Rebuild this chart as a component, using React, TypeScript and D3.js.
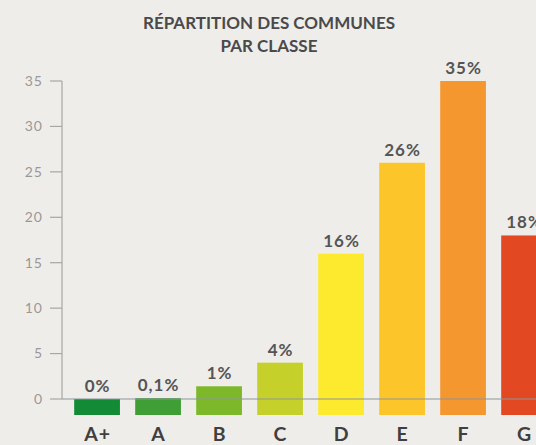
import React from "react";
import * as d3 from "d3";

const categories = ["A+", "A", "B", "C", "D", "E", "F", "G"];
const values = [0, 0.1, 1.4, 4, 16, 26, 35, 18];
const valueLabels = ["0%", "0,1%", "1%", "4%", "16%", "26%", "35%", "18%"];
const colors = ["#138a36", "#3f9e36", "#7cb829", "#c6d02b", "#fde92e", "#fcc52a", "#f5972f", "#e24822"];
const yTicks = [0, 5, 10, 15, 20, 25, 30, 35];
const titleLines = ["RÉPARTITION DES COMMUNES", "PAR CLASSE"];

const W = 536;
const H = 445;

export default function App() {
  const axisX = 62;
  const step = 61;
  const pIn = 0.25;
  const pOut = 0.2;
  const x = d3
    .scaleBand<string>()
    .domain(categories)
    .range([axisX, axisX + step * (categories.length - pIn + 2 * pOut)])
    .paddingInner(pIn)
    .paddingOuter(pOut);
  const y = d3.scaleLinear().domain([0, 35]).range([399, 81]);
  const below = 16;
  const font = "Lato, 'Open Sans', sans-serif";

  return (
    <div style={{ position: "fixed", left: 0, top: 0, width: W, height: H, background: "#efedea" }}>
      <svg width={W} height={H} style={{ display: "block" }}>
        <rect x={0} y={0} width={W} height={H} fill="#efedea" />
        {titleLines.map((t, i) => (
          <text
            key={t}
            x={269}
            y={29 + i * 23}
            textAnchor="middle"
            fontFamily={font}
            fontWeight={700}
            fontSize={17}
            fill="#4a4a4a"
          >
            {t}
          </text>
        ))}
        {/* y axis */}
        <line x1={axisX} x2={axisX} y1={y(35)} y2={y(0)} stroke="#a8a6a3" strokeWidth={1.2} />
        {yTicks.map((t) => (
          <g key={t}>
            <line x1={axisX - 12} x2={axisX} y1={y(t)} y2={y(t)} stroke="#a8a6a3" strokeWidth={1.2} />
            <text
              x={43}
              y={y(t)}
              dy="0.35em"
              textAnchor="end"
              fontFamily={font}
              fontSize={14}
              letterSpacing={1}
              fill="#9a9896"
            >
              {t}
            </text>
          </g>
        ))}
        {/* bars */}
        {categories.map((c, i) => (
          <rect
            key={c}
            x={x(c)}
            y={y(values[i])}
            width={x.bandwidth()}
            height={y(0) - y(values[i]) + below}
            fill={colors[i]}
          />
        ))}
        {/* zero line */}
        <line x1={axisX} x2={W} y1={y(0)} y2={y(0)} stroke="#8d969a" strokeWidth={1.2} />
        {/* value labels */}
        {categories.map((c, i) => (
          <text
            key={c + "v"}
            x={(x(c) as number) + x.bandwidth() / 2 + 0.5}
            y={Math.min(y(values[i]), y(0)) - 7}
            textAnchor="middle"
            fontFamily={font}
            fontWeight={700}
            fontSize={17}
            letterSpacing={1}
            fill="#555555"
          >
            {valueLabels[i]}
          </text>
        ))}
        {/* category labels */}
        {categories.map((c) => (
          <text
            key={c + "c"}
            x={(x(c) as number) + x.bandwidth() / 2 + 0.5}
            y={441}
            textAnchor="middle"
            fontFamily={font}
            fontWeight={700}
            fontSize={19.5}
            letterSpacing={1}
            fill="#3f3f3f"
          >
            {c}
          </text>
        ))}
      </svg>
    </div>
  );
}
